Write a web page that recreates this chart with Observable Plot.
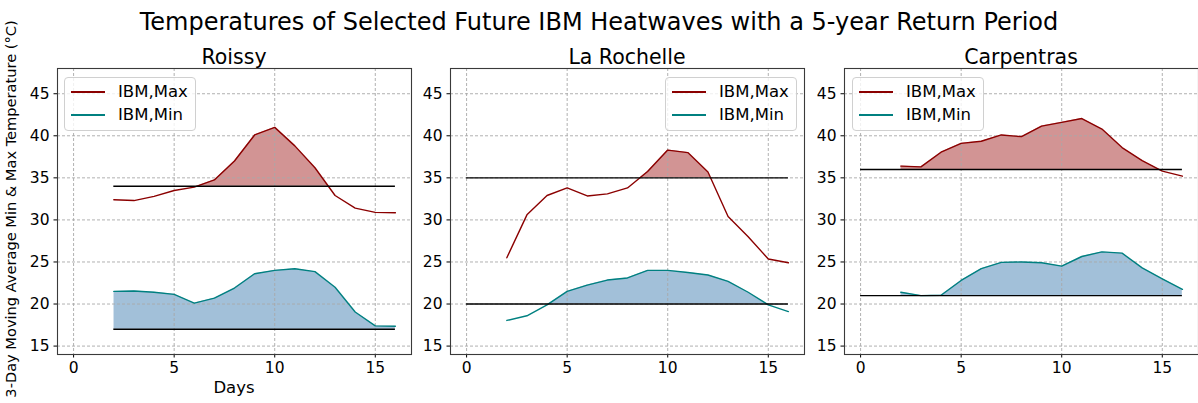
<!DOCTYPE html>
<html><head><meta charset="utf-8">
<script src="https://cdn.jsdelivr.net/npm/d3@7"></script>
<script src="https://cdn.jsdelivr.net/npm/@observablehq/plot@0.6"></script>
<style>
body{margin:0;background:#fff;}
#fig{position:relative;width:1198px;height:403px;overflow:hidden;font-family:"DejaVu Sans",sans-serif;color:#000;background:#fff;}
.abs{position:absolute;white-space:nowrap;line-height:1;}
.leg{position:absolute;border:1px solid #d0d0d0;border-radius:4px;background:rgba(255,255,255,0.8);box-sizing:border-box;}
</style></head><body><div id="fig"></div>
<script>
// ---- data ----
const stations = ["Roissy", "La Rochelle", "Carpentras"];
const days = [2, 3, 4, 5, 6, 7, 8, 9, 10, 11, 12, 13, 14, 15, 16];
const roissyMax = [32.4, 32.3, 32.8, 33.5, 33.9, 34.75, 37.0, 40.1, 41.0, 38.8, 36.2, 32.9, 31.4, 30.9, 30.85];
const roissyMin = [21.5, 21.55, 21.4, 21.15, 20.1, 20.7, 21.9, 23.6, 24.0, 24.2, 23.85, 22.0, 19.05, 17.4, 17.35];
const rochelleMax = [25.5, 30.6, 32.9, 33.8, 32.85, 33.1, 33.8, 35.75, 38.3, 38.0, 35.7, 30.4, 28.0, 25.35, 24.9];
const rochelleMin = [18.05, 18.6, 19.9, 21.5, 22.25, 22.85, 23.1, 24.0, 24.0, 23.75, 23.45, 22.7, 21.4, 19.9, 19.1];
const carpentrasMax = [36.4, 36.3, 38.05, 39.1, 39.35, 40.1, 39.9, 41.15, 41.6, 42.05, 40.8, 38.6, 37.05, 35.8, 35.2];
const carpentrasMin = [21.4, 21.0, 21.05, 22.8, 24.2, 24.95, 25.0, 24.9, 24.5, 25.65, 26.2, 26.05, 24.3, 23.0, 21.75];
const thresholdMax = [34, 35, 36];
const thresholdMin = [17, 20, 21];
const thresholdStart = [2, 0, 0];
const thresholdEnd = [16, 16, 16];
const xTicks = [0, 5, 10, 15];
const yTicks = [15, 20, 25, 30, 35, 40, 45];
const seriesNames = ["IBM,Max", "IBM,Min"];
const maxSeries = [roissyMax, rochelleMax, carpentrasMax];
const minSeries = [roissyMin, rochelleMin, carpentrasMin];

// ---- layout ----
const fig = document.getElementById("fig");
const frameLefts = [57, 450, 844];
const frameW = 354;
const mL = 40, mR = 2, svgTop = 60, mT = 8, mB = 49, svgH = 343;
const legendPos = [[64, 77], [665, 77], [852, 77]];
const maxColor = "#8b0000", minColor = "#008080";
const maxFill = "#a52a2a", minFill = "#4682b4";

function addText(txt, x, y, size, opts = {}) {
  const d = document.createElement("div");
  d.className = "abs";
  d.textContent = txt;
  d.style.fontSize = size + "px";
  d.style.left = x + "px";
  d.style.top = y + "px";
  d.style.transform = opts.transform || "translate(-50%,-50%)";
  fig.appendChild(d);
  return d;
}

function fillMark(data, key, thr, color) {
  if (Plot.differenceY) {
    return Plot.differenceY(data, {
      x: "day", y1: () => thr, y2: key,
      positiveFill: color, positiveFillOpacity: 0.5,
      negativeFill: "none", negativeFillOpacity: 0,
      stroke: "none", curve: "linear"
    });
  }
  return Plot.areaY(data, {x: "day", y1: () => thr, y2: d => Math.max(d[key], thr), fill: color, fillOpacity: 0.5});
}

stations.forEach((name, i) => {
  const data = days.map((d, j) => ({day: d, max: maxSeries[i][j], min: minSeries[i][j]}));
  const plot = Plot.plot({
    width: mL + frameW + mR,
    height: svgH,
    marginLeft: mL, marginRight: mR, marginTop: mT, marginBottom: mB,
    style: {fontFamily: "DejaVu Sans", fontSize: "15.5px", background: "transparent", overflow: "visible", color: "#000"},
    x: {domain: [-0.8, 16.8], ticks: xTicks, tickSize: 3.5, tickPadding: 4, label: null},
    y: {domain: [14, 48], ticks: yTicks, tickSize: 3.5, tickPadding: 4.5, label: null},
    marks: [
      fillMark(data, "max", thresholdMax[i], maxFill),
      fillMark(data, "min", thresholdMin[i], minFill),
      Plot.gridX(xTicks, {stroke: "#a8a8a8", strokeOpacity: 1, strokeDasharray: "3,2", strokeWidth: 0.9}),
      Plot.gridY(yTicks, {stroke: "#a8a8a8", strokeOpacity: 1, strokeDasharray: "3,2", strokeWidth: 0.9}),
      Plot.lineY(data, {x: "day", y: "max", stroke: maxColor, strokeWidth: 1.4}),
      Plot.lineY(data, {x: "day", y: "min", stroke: minColor, strokeWidth: 1.4}),
      Plot.ruleY([thresholdMax[i]], {x1: thresholdStart[i], x2: thresholdEnd[i], stroke: "#000", strokeWidth: 1.4}),
      Plot.ruleY([thresholdMin[i]], {x1: thresholdStart[i], x2: thresholdEnd[i], stroke: "#000", strokeWidth: 1.4}),
      Plot.frame({stroke: "#3a3a3a", strokeWidth: 1.1})
    ]
  });
  plot.style.position = "absolute";
  plot.style.left = (frameLefts[i] - mL) + "px";
  plot.style.top = svgTop + "px";
  fig.appendChild(plot);

  // panel title
  addText(name, frameLefts[i] + frameW / 2, 57, 20.5);

  // legend
  const [lx, ly] = legendPos[i];
  const leg = document.createElement("div");
  leg.className = "leg";
  leg.style.left = lx + "px"; leg.style.top = ly + "px";
  leg.style.width = "132px"; leg.style.height = "54px";
  [maxColor, minColor].forEach((c, k) => {
    const ln = document.createElement("div");
    ln.style.cssText = `position:absolute;left:6px;top:${13 + k * 23}px;width:34px;height:2px;background:${c};`;
    leg.appendChild(ln);
    const t = document.createElement("div");
    t.className = "abs";
    t.style.cssText += `left:53px;top:${14 + k * 23}px;font-size:16.5px;transform:translateY(-50%);`;
    t.textContent = seriesNames[k];
    leg.appendChild(t);
  });
  fig.appendChild(leg);
});

// figure title and axis labels
addText("Temperatures of Selected Future IBM Heatwaves with a 5-year Return Period", 599, 22, 24);
addText("Days", frameLefts[0] + frameW / 2, 388, 16.5);
addText("3-Day Moving Average Min & Max Temperature (°C)", 11, 209, 14.6, {transform: "translate(-50%,-50%) rotate(-90deg)"});
</script></body></html>
